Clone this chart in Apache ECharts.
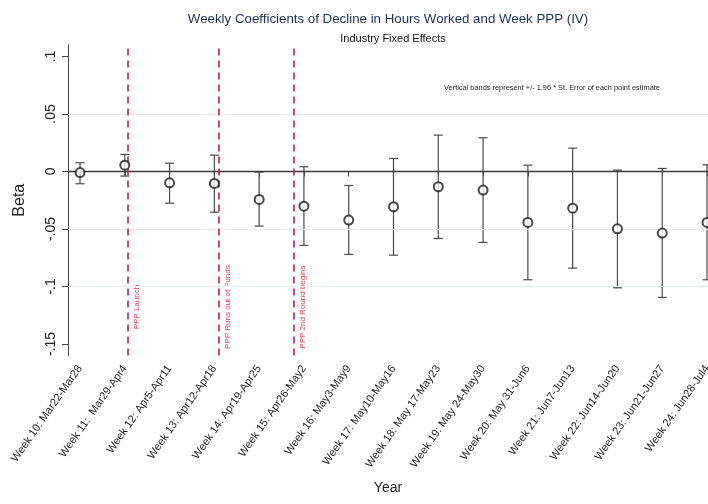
<!DOCTYPE html>
<html>
<head>
<meta charset="utf-8">
<title>Weekly Coefficients</title>
<script src="https://cdn.jsdelivr.net/npm/echarts@6/dist/echarts.min.js"></script>
<style>
  html, body { margin: 0; padding: 0; background: #fff; }
  #main { width: 708px; height: 504px; }
</style>
</head>
<body>
<div id="main"></div>
<script>
// data
var weeks = [10, 11, 12, 13, 14, 15, 16, 17, 18, 19, 20, 21, 22, 23, 24]
var weekLabels = [
  'Week 10: Mar22-Mar28', 'Week 11:  Mar29-Apr4', 'Week 12: Apr5-Apr11',
  'Week 13: Apr12-Apr18', 'Week 14: Apr19-Apr25', 'Week 15: Apr26-May2',
  'Week 16: May3-May9', 'Week 17: May10-May16', 'Week 18: May 17-May23',
  'Week 19: May 24-May30', 'Week 20: May 31-Jun6', 'Week 21: Jun7-Jun13',
  'Week 22: Jun14-Jun20', 'Week 23: Jun21-Jun27', 'Week 24: Jun28-Jul4'
]
var beta = [-0.001, 0.0055, -0.0099, -0.0104, -0.0243, -0.0302, -0.0423, -0.0307,
  -0.0133, -0.0162, -0.0443, -0.0319, -0.0499, -0.0536, -0.0443]
var ciLow = [-0.0107, -0.004, -0.0276, -0.0354, -0.0475, -0.0643, -0.0722, -0.0728,
  -0.0583, -0.0617, -0.0942, -0.0841, -0.1012, -0.1096, -0.0942]
var ciHigh = [0.0076, 0.0148, 0.0072, 0.0142, -0.0006, 0.0041, -0.0122, 0.0113,
  0.0316, 0.0293, 0.0055, 0.0203, 0.0012, 0.0026, 0.0058]
var yTicks = [-0.15, -0.1, -0.05, 0, 0.05, 0.1]
var gridValues = [0.05, -0.05, -0.1]
var pppWeeks = [11.07, 13.1, 14.78]
var pppLabels = ['PPP Launch', 'PPP Runs out of Funds', 'PPP 2nd Round begins']
var pppLabelY = -0.118

var FONT = 'Liberation Sans, Arial, Helvetica, sans-serif'

var points = weeks.map(function (w, i) { return [w, beta[i]] })
var bars = weeks.map(function (w, i) { return [w, ciLow[i], ciHigh[i]] })
var pppText = pppWeeks.map(function (w, i) { return [w, pppLabelY, i] })

// stata style: .05 / -.1
function stataNum (v) {
  if (v === 0) return '0'
  var s = String(Math.round(v * 1000) / 1000)
  return s.replace('0.', '.')
}

var myChart = echarts.init(document.getElementById('main'))

var option = {
  animation: false,
  backgroundColor: '#fff',
  textStyle: { fontFamily: FONT },
  title: [
    {
      text: 'Weekly Coefficients of Decline in Hours Worked and Week PPP (IV)',
      left: 383, top: 8, textAlign: 'center',
      textStyle: { fontFamily: FONT, fontSize: 13.3, fontWeight: 'normal', color: '#1c2d5c' }
    },
    {
      text: 'Industry Fixed Effects',
      left: 388, top: 28, textAlign: 'center',
      textStyle: { fontFamily: FONT, fontSize: 11, fontWeight: 'normal', color: '#111' }
    },
    {
      text: 'Vertical bands represent +/- 1.96 * St. Error of each point estimate',
      left: 547, top: 79, textAlign: 'center',
      textStyle: { fontFamily: FONT, fontSize: 7.4, fontWeight: 'normal', color: '#222' }
    }
  ],
  grid: { left: 68, right: 0, top: 45, bottom: 148.6, containLabel: false, outerBoundsMode: 'none' },
  xAxis: {
    type: 'value',
    min: 9.732,
    max: 24.022,
    name: 'Year',
    nameLocation: 'middle',
    nameGap: 126,
    nameTextStyle: { fontFamily: FONT, fontSize: 14, color: '#222' },
    axisLine: { show: true, lineStyle: { color: '#444', width: 1 } },
    axisTick: { show: true, length: 5, customValues: weeks, lineStyle: { color: '#444' } },
    axisLabel: {
      customValues: weeks,
      rotate: 55,
      margin: 11,
      fontSize: 11,
      color: '#222',
      fontFamily: FONT,
      hideOverlap: false,
      formatter: function (v) {
        var i = weeks.indexOf(Math.round(v))
        return i >= 0 ? weekLabels[i] : ''
      }
    },
    splitLine: { show: false }
  },
  yAxis: {
    type: 'value',
    min: -0.16,
    max: 0.11,
    name: 'Beta',
    nameLocation: 'middle',
    nameGap: 40,
    nameRotate: 90,
    nameTextStyle: { fontFamily: FONT, fontSize: 16, color: '#222' },
    axisLine: { show: true, lineStyle: { color: '#444', width: 1 } },
    axisTick: { show: true, length: 6, customValues: yTicks, lineStyle: { color: '#444' } },
    axisLabel: {
      customValues: yTicks,
      rotate: 90,
      margin: 10,
      fontSize: 14,
      color: '#222',
      fontFamily: FONT,
      formatter: stataNum
    },
    splitLine: { show: false }
  },
  series: [
    {
      // faint grid lines
      type: 'line',
      data: [],
      silent: true,
      markLine: {
        silent: true,
        symbol: 'none',
        label: { show: false },
        lineStyle: { color: '#e4eeef', width: 1, type: 'solid' },
        data: gridValues.map(function (v) { return { yAxis: v } })
      }
    },
    {
      // zero line and PPP event lines
      type: 'line',
      data: [],
      silent: true,
      markLine: {
        silent: true,
        symbol: 'none',
        label: { show: false },
        data: [
          { yAxis: 0, lineStyle: { color: '#3a3a3a', width: 1.4, type: 'solid' } }
        ].concat(pppWeeks.map(function (w) {
          return { xAxis: w, lineStyle: { color: '#c8194b', width: 1.6, type: [7, 5] } }
        }))
      }
    },
    {
      // PPP labels
      type: 'custom',
      data: pppText,
      silent: true,
      renderItem: function (params, api) {
        var p = api.coord([api.value(0), api.value(1)])
        return {
          type: 'text',
          x: p[0] + 9,
          y: p[1],
          rotation: Math.PI / 2,
          style: {
            text: pppLabels[api.value(2)],
            fill: '#ea3a4f',
            font: '8px ' + FONT,
            align: 'center',
            verticalAlign: 'middle'
          }
        }
      }
    },
    {
      // error bars
      type: 'custom',
      data: bars,
      silent: true,
      clip: false,
      renderItem: function (params, api) {
        var x = api.value(0)
        var lo = api.coord([x, api.value(1)])
        var hi = api.coord([x, api.value(2)])
        var w = 4.5
        var st = { stroke: '#4a4a4a', lineWidth: 1.2 }
        return {
          type: 'group',
          children: [
            { type: 'line', shape: { x1: lo[0], y1: lo[1], x2: hi[0], y2: hi[1] }, style: st },
            { type: 'line', shape: { x1: lo[0] - w, y1: lo[1], x2: lo[0] + w, y2: lo[1] }, style: st },
            { type: 'line', shape: { x1: hi[0] - w, y1: hi[1], x2: hi[0] + w, y2: hi[1] }, style: st }
          ]
        }
      }
    },
    {
      type: 'scatter',
      data: points,
      symbol: 'emptyCircle',
      symbolSize: 9,
      clip: false,
      itemStyle: { color: '#1a1a1a', borderWidth: 1.6 },
      z: 5
    }
  ]
}

myChart.setOption(option)
</script>
</body>
</html>
